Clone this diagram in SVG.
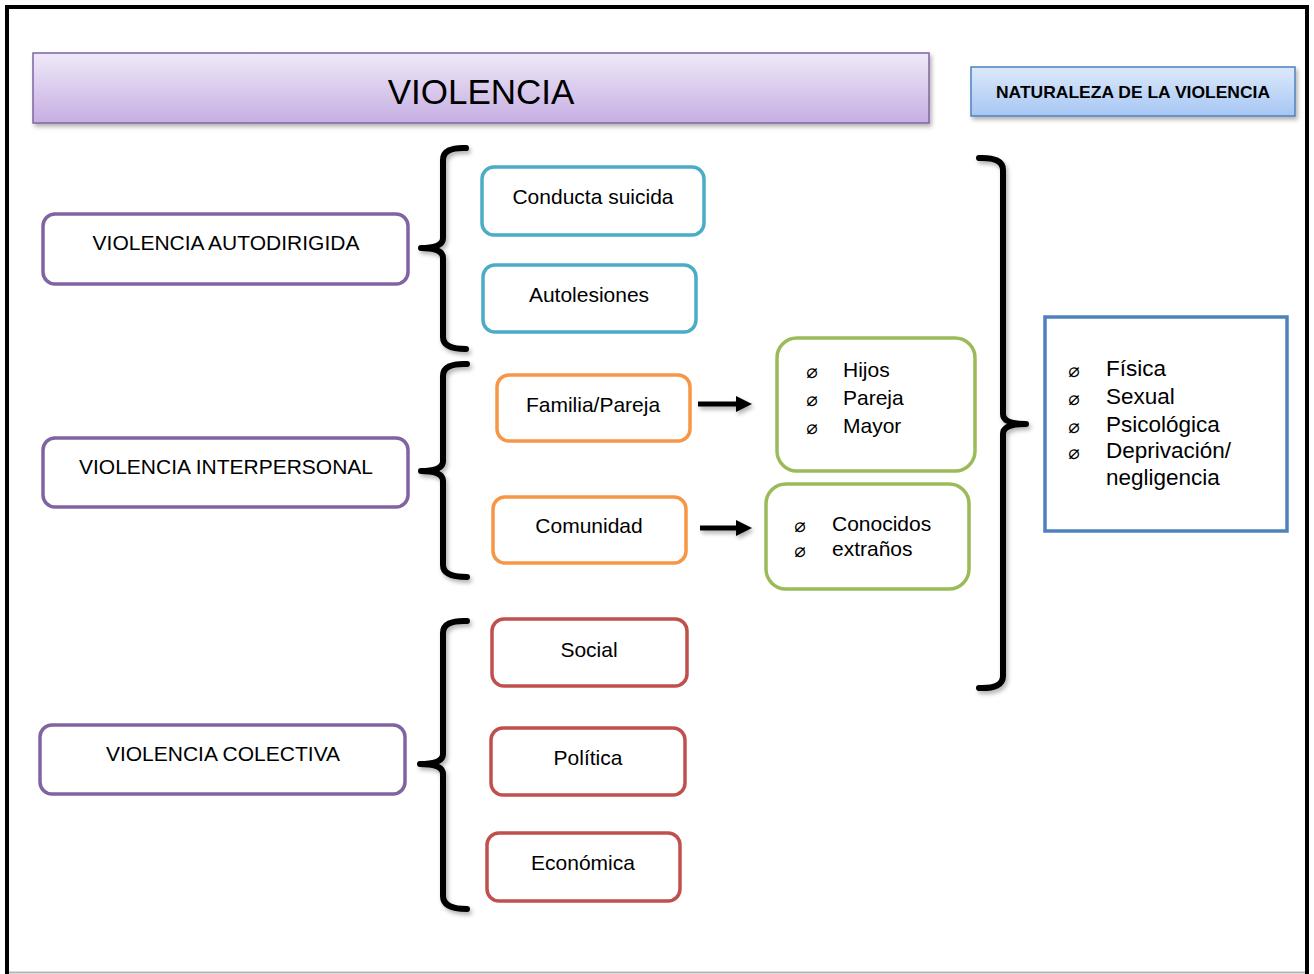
<svg xmlns="http://www.w3.org/2000/svg" width="1314" height="974" viewBox="0 0 1314 974">
<defs>
<linearGradient id="gPurple" x1="0" y1="0" x2="0" y2="1">
<stop offset="0" stop-color="#efe9f8"/>
<stop offset="1" stop-color="#c6aee2"/>
</linearGradient>
<linearGradient id="gBlue" x1="0" y1="0" x2="0" y2="1">
<stop offset="0" stop-color="#dde9fb"/>
<stop offset="1" stop-color="#a6c6f3"/>
</linearGradient>
<filter id="sh" x="-10%" y="-10%" width="130%" height="130%">
<feDropShadow dx="2" dy="3" stdDeviation="2" flood-color="#000" flood-opacity="0.3"/>
</filter>
<marker id="ah" markerWidth="4" markerHeight="4" refX="0.2" refY="2" orient="auto" markerUnits="strokeWidth">
<path d="M0,0.4 L3.2,2 L0,3.6 Z" fill="#000"/>
</marker>
</defs>
<style>
.t{font-family:"Liberation Sans",Arial,sans-serif;font-size:21px;fill:#000;text-anchor:middle}
.l{font-family:"Liberation Sans",Arial,sans-serif;font-size:21px;fill:#000}
.b{font-family:"DejaVu Sans",sans-serif;font-size:19px;fill:#000;text-anchor:middle}
.box{fill:#fff;stroke-width:3.5}
.pur{stroke:#8064a2}.teal{stroke:#4bacc6}.ora{stroke:#f79646}.grn{stroke:#9bbb59}.red{stroke:#c0504d}
.br{fill:none;stroke:#000;stroke-width:6;stroke-linecap:round;stroke-linejoin:round}
.arr{stroke:#000;stroke-width:5;fill:none}
</style>
<rect width="1314" height="974" fill="#fff"/>
<line x1="9" y1="972.5" x2="1305" y2="972.5" stroke="#b5b5b5" stroke-width="2"/>
<path d="M7,974 V7 H1307 V974" fill="none" stroke="#000" stroke-width="4"/>

<g id="title">
<rect x="33" y="53" width="896" height="70" fill="url(#gPurple)" stroke="#8064a2" stroke-width="1.5" filter="url(#sh)"/>
<text x="481" y="104" style="font-family:'Liberation Sans',Arial,sans-serif;font-size:35px;text-anchor:middle">VIOLENCIA</text>
</g>
<g id="naturaleza">
<rect x="971" y="67" width="324" height="49" fill="url(#gBlue)" stroke="#4f81bd" stroke-width="1.5" filter="url(#sh)"/>
<text x="1133" y="98" style="font-family:'Liberation Sans',Arial,sans-serif;font-size:17px;font-weight:bold;text-anchor:middle" textLength="274" lengthAdjust="spacingAndGlyphs">NATURALEZA DE LA VIOLENCIA</text>
</g>

<g id="autodirigida">
<rect class="box pur" x="43" y="214" width="365" height="70" rx="12"/>
<text class="t" x="226" y="250">VIOLENCIA AUTODIRIGIDA</text>
</g>
<g id="interpersonal">
<rect class="box pur" x="43" y="438" width="365" height="69" rx="12"/>
<text class="t" x="226" y="474">VIOLENCIA INTERPERSONAL</text>
</g>
<g id="colectiva">
<rect class="box pur" x="40" y="725" width="365" height="69" rx="12"/>
<text class="t" x="223" y="761">VIOLENCIA COLECTIVA</text>
</g>

<g id="conducta">
<rect class="box teal" x="482" y="167" width="222" height="68" rx="12"/>
<text class="t" x="593" y="204">Conducta suicida</text>
</g>
<g id="autolesiones">
<rect class="box teal" x="483" y="265" width="213" height="67" rx="12"/>
<text class="t" x="589" y="302">Autolesiones</text>
</g>
<g id="familia">
<rect class="box ora" x="497" y="375" width="193" height="66" rx="12"/>
<text class="t" x="593" y="412">Familia/Pareja</text>
</g>
<g id="comunidad">
<rect class="box ora" x="493" y="497" width="193" height="66" rx="12"/>
<text class="t" x="589" y="533">Comunidad</text>
</g>
<g id="social">
<rect class="box red" x="492" y="619" width="195" height="67" rx="12"/>
<text class="t" x="589" y="657">Social</text>
</g>
<g id="politica">
<rect class="box red" x="491" y="728" width="194" height="67" rx="12"/>
<text class="t" x="588" y="765">Política</text>
</g>
<g id="economica">
<rect class="box red" x="487" y="833" width="193" height="68" rx="12"/>
<text class="t" x="583" y="870">Económica</text>
</g>

<g id="hijos">
<rect class="box grn" x="777" y="338" width="198" height="133" rx="20"/>
<text class="b" x="812" y="378">⌀</text>
<text class="b" x="812" y="406">⌀</text>
<text class="b" x="812" y="434">⌀</text>
<text class="l" x="843" y="377">Hijos</text>
<text class="l" x="843" y="405">Pareja</text>
<text class="l" x="843" y="433">Mayor</text>
</g>
<g id="conocidos">
<rect class="box grn" x="766" y="484" width="203" height="105" rx="20"/>
<text class="b" x="800" y="532">⌀</text>
<text class="b" x="800" y="557">⌀</text>
<text class="l" x="832" y="531">Conocidos</text>
<text class="l" x="832" y="556">extraños</text>
</g>
<g id="naturaleza-list">
<rect x="1045" y="317" width="242" height="214" fill="#fff" stroke="#4f81bd" stroke-width="3.5"/>
<text class="b" x="1074" y="377">⌀</text>
<text class="b" x="1074" y="405">⌀</text>
<text class="b" x="1074" y="433">⌀</text>
<text class="b" x="1074" y="459">⌀</text>
<text class="l" x="1106" y="376" style="font-size:22.5px">Física</text>
<text class="l" x="1106" y="404" style="font-size:22.5px">Sexual</text>
<text class="l" x="1106" y="432" style="font-size:22.5px">Psicológica</text>
<text class="l" x="1106" y="458" style="font-size:22.5px">Deprivación/</text>
<text class="l" x="1106" y="485" style="font-size:22.5px">negligencia</text>
</g>

<g id="connectors" filter="url(#sh)">
<path class="br" d="M466,148 Q443,147 443,160 L443,238 Q443,248 421,248 Q443,248 443,258 L443,337 Q443,349 466,349"/>
<path class="br" d="M467,364 Q443,363 443,376 L443,461 Q443,471 421,471 Q443,471 443,481 L443,565 Q443,577 467,577"/>
<path class="br" d="M467,621 Q443,620 443,633 L443,754 Q443,764 420,764 Q443,764 443,774 L443,896 Q443,909 467,909"/>
<path class="br" d="M979,158 Q1003,157 1003,170 L1003,414 Q1003,424 1026,424 Q1003,424 1003,434 L1003,676 Q1003,689 979,688"/>
<line class="arr" x1="698" y1="404" x2="737" y2="404" marker-end="url(#ah)"/>
<line class="arr" x1="700" y1="528" x2="737" y2="528" marker-end="url(#ah)"/>
</g>
</svg>
